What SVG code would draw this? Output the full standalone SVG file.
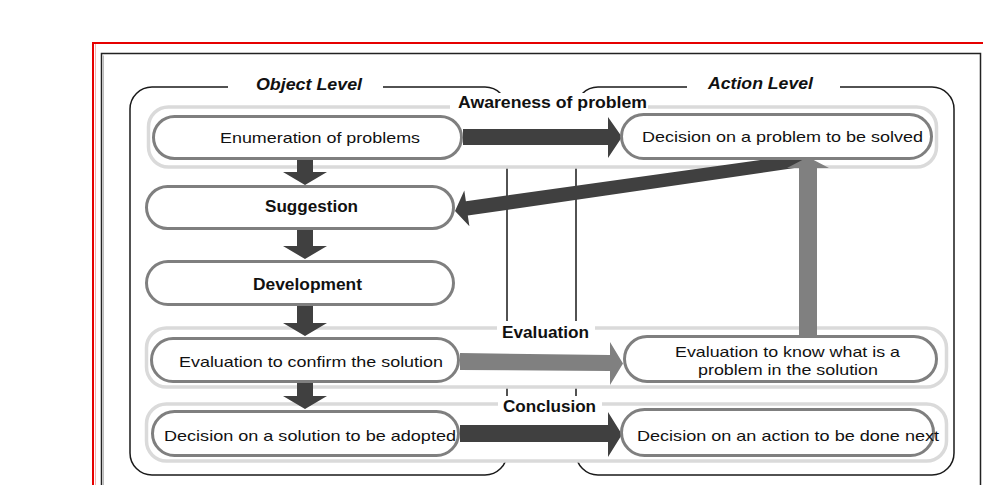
<svg xmlns="http://www.w3.org/2000/svg" width="983" height="485" viewBox="0 0 983 485">
<defs>
<style>
.frame{fill:none}
.lvl{fill:none;stroke:#1a1a1a;stroke-width:1.5}
.band{fill:#fff;stroke:#dadada;stroke-width:3.5}
.node{fill:#fff;stroke:#7f7f7f;stroke-width:3}
.bg{fill:#fff}
.t{font-family:"Liberation Sans",Arial,sans-serif;font-size:15px;fill:#111}
.b{font-family:"Liberation Sans",Arial,sans-serif;font-size:16px;font-weight:bold;fill:#111}
.bi{font-family:"Liberation Sans",Arial,sans-serif;font-size:16px;font-weight:bold;font-style:italic;fill:#111}
.dark{fill:#404040}
.gray{fill:#808080}
</style>
</defs>
<rect width="983" height="485" fill="#fff"/>
<!-- frames -->
<g id="frames">
<path d="M983,43 H93 V485" fill="none" stroke="#e60000" stroke-width="2"/>
<path d="M95.5,44 V485" fill="none" stroke="#f4b0b0" stroke-width="1"/>
<path d="M101.5,485 V53.5 H980.5 V485" fill="none" stroke="#222" stroke-width="1.5"/>
<path d="M103.5,485 V55.5" fill="none" stroke="#bbb" stroke-width="1"/>
</g>
<!-- level containers -->
<g id="object-level">
<rect class="lvl" x="130" y="87" width="377" height="388" rx="22"/>
</g>
<g id="action-level">
<rect class="lvl" x="576" y="87" width="378" height="388" rx="22"/>
</g>
<!-- bands -->
<g id="band-awareness">
<rect class="band" x="148.5" y="107" width="788" height="60" rx="20"/>
</g>
<g id="band-evaluation">
<rect class="band" x="146.5" y="328" width="800" height="59" rx="20"/>
</g>
<g id="band-conclusion">
<rect class="band" x="146.5" y="404" width="800" height="57" rx="20"/>
</g>
<!-- labels -->
<g id="labels">
<rect class="bg" x="228" y="76" width="155" height="18"/>
<text class="bi" x="256" y="90" textLength="106" lengthAdjust="spacingAndGlyphs">Object Level</text>
<rect class="bg" x="687" y="75" width="153" height="18"/>
<text class="bi" x="708" y="89" textLength="105" lengthAdjust="spacingAndGlyphs">Action Level</text>
<rect class="bg" x="450" y="93" width="198" height="17"/>
<text class="b" x="458" y="108" textLength="189" lengthAdjust="spacingAndGlyphs">Awareness of problem</text>
<rect class="bg" x="497" y="321" width="98" height="15"/>
<text class="b" x="502" y="338" textLength="87" lengthAdjust="spacingAndGlyphs">Evaluation</text>
<rect class="bg" x="498" y="396" width="104" height="15"/>
<text class="b" x="503" y="412" textLength="93" lengthAdjust="spacingAndGlyphs">Conclusion</text>
</g>
<!-- connectors -->
<g id="connectors">
<polygon class="dark" points="297,160 313,160 313,172 327,172 305,185 283,172 297,172"/>
<polygon class="dark" points="297,230 313,230 313,246 327,246 305,259 283,246 297,246"/>
<polygon class="dark" points="297,306 313,306 313,323 327,323 305,336 283,323 297,323"/>
<polygon class="dark" points="297,383 313,383 313,396 327,396 305,409 283,396 297,396"/>
<polygon class="dark" points="463,129 608,129 608,117 622,137 608,158 608,145 463,145"/>
<polygon class="dark" points="808,153.3 809.8,165.7 467.8,215.6 469.4,226.3 455,211 464.3,190.6 465.9,201.2"/>
<polygon class="gray" points="460,353 610,355 610,342 623,363.5 610,385 610,371 460,370"/>
<polygon class="dark" points="460,425 608,425 608,412 622,434.5 608,457 608,442 460,442"/>
</g>
<!-- nodes -->
<g id="enumeration-of-problems">
<rect class="node" x="153.5" y="116.5" width="308" height="42" rx="21"/>
<text class="t" x="220" y="143" textLength="200" lengthAdjust="spacingAndGlyphs">Enumeration of problems</text>
</g>
<g id="decision-problem">
<rect class="node" x="621.5" y="114.5" width="310" height="44" rx="22"/>
<text class="t" x="642" y="142" textLength="281" lengthAdjust="spacingAndGlyphs">Decision on a problem to be solved</text>
</g>
<g id="suggestion">
<rect class="node" x="146.5" y="186.5" width="307" height="42" rx="21"/>
<text class="b" x="265" y="212" textLength="93" lengthAdjust="spacingAndGlyphs">Suggestion</text>
</g>
<g id="development">
<rect class="node" x="146.5" y="261.5" width="307" height="43" rx="21.5"/>
<text class="b" x="253" y="290" textLength="109" lengthAdjust="spacingAndGlyphs">Development</text>
</g>
<g id="evaluation-confirm">
<rect class="node" x="151.5" y="338.5" width="307" height="43" rx="21.5"/>
<text class="t" x="179" y="367" textLength="264" lengthAdjust="spacingAndGlyphs">Evaluation to confirm the solution</text>
</g>
<g id="evaluation-know">
<rect class="node" x="624.5" y="336.5" width="312" height="45" rx="22.5"/>
<text class="t" x="675" y="357" textLength="225" lengthAdjust="spacingAndGlyphs">Evaluation to know what is a</text>
<text class="t" x="698" y="375" textLength="180" lengthAdjust="spacingAndGlyphs">problem in the solution</text>
</g>
<g id="decision-solution">
<rect class="node" x="152.5" y="411.5" width="306" height="44" rx="22"/>
<text class="t" x="164" y="441" textLength="292" lengthAdjust="spacingAndGlyphs">Decision on a solution to be adopted</text>
</g>
<g id="decision-action">
<rect class="node" x="621.5" y="409.5" width="312" height="46" rx="23"/>
<text class="t" x="637" y="441" textLength="302" lengthAdjust="spacingAndGlyphs">Decision on an action to be done next</text>
</g>
<g id="feedback-arrow">
<polygon class="gray" points="799,335 817,335 817,168 829,168 808,157 787,168 799,168"/>
</g>
</svg>
